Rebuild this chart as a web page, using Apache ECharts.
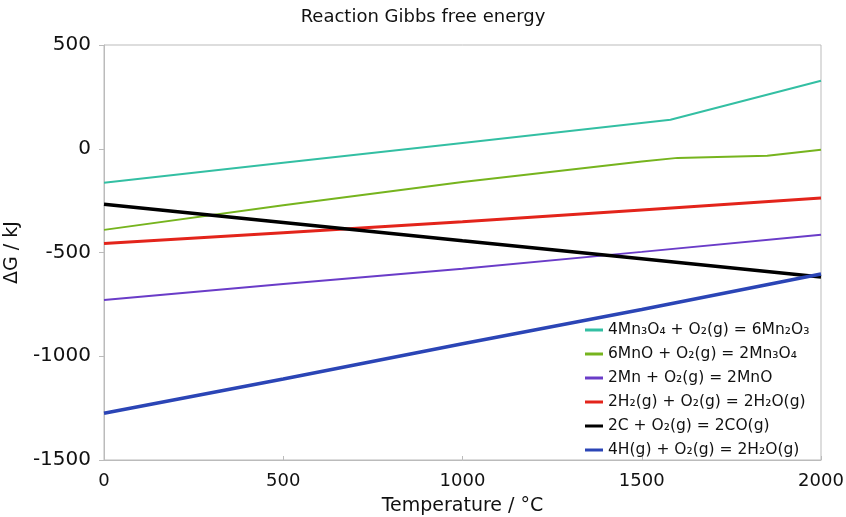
<!DOCTYPE html>
<html>
<head>
<meta charset="utf-8">
<script src="https://cdn.jsdelivr.net/npm/echarts@6/dist/echarts.min.js"></script>
<style>
  html, body { margin: 0; padding: 0; background: #fff; }
  #chart { width: 846px; height: 517px; }
</style>
</head>
<body>
<div id="chart"></div>
<script>
// temperatures (°C) and reaction Gibbs energies (kJ)
var tMn3O4 = [0, 500, 1000, 1580, 2000];
var gMn3O4 = [-164, -68, 28, 140, 328];

var tMnO = [0, 500, 1000, 1500, 1600, 1850, 2000];
var gMnO = [-391, -272, -160, -62, -44, -34, -5];

var tMn = [0, 500, 1000, 1500, 2000];
var gMn = [-729, -652, -578, -497, -415];

var tH2 = [0, 500, 1000, 1500, 2000];
var gH2 = [-457, -405, -352, -295, -237];

var tC = [0, 500, 1000, 1500, 2000];
var gC = [-267, -355, -443, -530, -618];

var tH = [0, 500, 1000, 1500, 2000];
var gH = [-1275, -1110, -940, -775, -604];

function pairs(t, g) {
    return t.map(function (x, i) { return [x, g[i]]; });
}

var myChart = echarts.init(document.getElementById('chart'));

var font = 'DejaVu Sans';

function line(name, t, g, color, width) {
    return {
        name: name,
        type: 'line',
        data: pairs(t, g),
        showSymbol: false,
        symbol: 'none',
        lineStyle: { color: color, width: width },
        itemStyle: { color: color }
    };
}

function plain(v) { return String(v); }

var option = {
    animation: false,
    textStyle: { fontFamily: font },
    title: {
        text: 'Reaction Gibbs free energy',
        left: 'center',
        top: 3,
        textStyle: { fontFamily: font, fontSize: 18, fontWeight: 'normal', color: '#111' }
    },
    grid: {
        left: 104, right: 25, top: 45, bottom: 57,
        outerBoundsMode: 'none',
        containLabel: false,
        show: true, borderColor: '#bbb', borderWidth: 1
    },
    legend: {
        orient: 'vertical',
        left: 580,
        top: 317,
        icon: 'rect',
        itemWidth: 18,
        itemHeight: 3,
        itemGap: 8,
        textStyle: { fontFamily: font, fontSize: 15.5, color: '#111' }
    },
    xAxis: {
        type: 'value',
        min: 0, max: 2000, interval: 500,
        name: 'Temperature / °C',
        nameLocation: 'middle',
        nameGap: 37,
        nameTextStyle: { fontFamily: font, fontSize: 19, color: '#111' },
        axisLine: { onZero: false, lineStyle: { color: '#bbb' } },
        axisTick: { inside: true, length: 4, lineStyle: { color: '#bbb' } },
        axisLabel: { fontFamily: font, fontSize: 18, color: '#111', margin: 12, formatter: plain },
        splitLine: { show: false }
    },
    yAxis: {
        type: 'value',
        min: -1500, max: 500, interval: 500,
        name: 'ΔG / kJ',
        nameLocation: 'middle',
        nameGap: 73,
        nameTextStyle: { fontFamily: font, fontSize: 19, color: '#111' },
        axisLine: { show: true, onZero: false, lineStyle: { color: '#bbb' } },
        axisTick: { show: true, length: 5, lineStyle: { color: '#bbb' } },
        axisLabel: { fontFamily: font, fontSize: 20, color: '#111', margin: 13, formatter: plain },
        splitLine: { show: false }
    },
    series: [
        line('4Mn₃O₄ + O₂(g) = 6Mn₂O₃', tMn3O4, gMn3O4, '#33bfa3', 2),
        line('6MnO + O₂(g) = 2Mn₃O₄', tMnO, gMnO, '#76b41e', 2),
        line('2Mn + O₂(g) = 2MnO', tMn, gMn, '#6a3cc8', 2),
        line('2H₂(g) + O₂(g) = 2H₂O(g)', tH2, gH2, '#e3241b', 3),
        line('2C + O₂(g) = 2CO(g)', tC, gC, '#000000', 3.5),
        line('4H(g) + O₂(g) = 2H₂O(g)', tH, gH, '#2b45b6', 3.5)
    ]
};

myChart.setOption(option);
</script>
</body>
</html>
